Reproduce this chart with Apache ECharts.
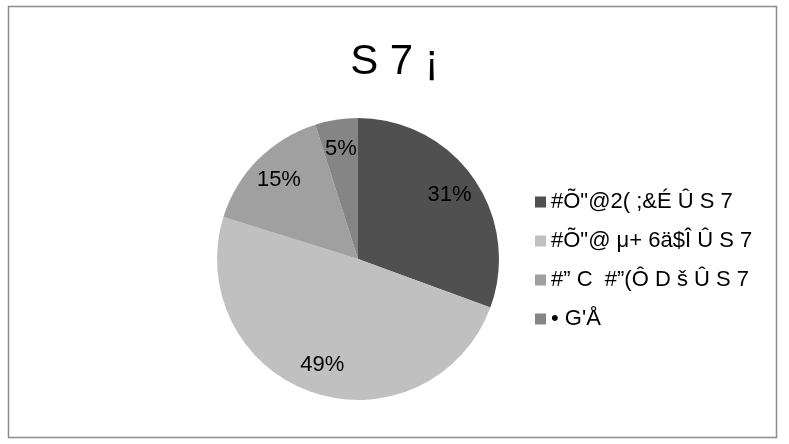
<!DOCTYPE html>
<html>
<head>
<meta charset="utf-8">
<script src="https://cdn.jsdelivr.net/npm/echarts@6/dist/echarts.min.js"></script>
<style>
html,body{margin:0;padding:0;background:#fff;}
#chart{width:789px;height:444px;}
</style>
</head>
<body>
<div id="chart"></div>
<script>
var titleText = 'S 7 ¡';
var categories = ['#Õ"@2( ;&É Û S 7', '#Õ"@ μ+ 6ä$Î Û S 7', '#” C  #”(Ô D š Û S 7', '• G\'Å'];
var values = [30.6, 49.2, 15.3, 4.9];
var colors = ['#505050', '#c0c0c0', '#a0a0a0', '#858585'];

var chart = echarts.init(document.getElementById('chart'), null, {renderer: 'canvas'});
var pieData = categories.map(function (c, i) {
  return { name: c, value: values[i], itemStyle: { color: colors[i] } };
});
var labelData = categories.map(function (c, i) {
  return { name: c, value: values[i] };
});
var font = '"Liberation Sans", Arial, sans-serif';
chart.setOption({
  animation: false,
  backgroundColor: '#ffffff',
  textStyle: { fontFamily: font },
  title: {
    text: titleText,
    left: 'center',
    top: 36,
    textStyle: { fontFamily: font, fontSize: 42, fontWeight: 'normal', color: '#000' }
  },
  legend: {
    orient: 'vertical',
    left: 530,
    top: 186,
    icon: 'rect',
    itemWidth: 11,
    itemHeight: 11,
    itemGap: 17,
    data: categories,
    textStyle: { fontFamily: font, fontSize: 22, color: '#000' },
    selectedMode: false
  },
  graphic: [{
    type: 'rect',
    shape: { x: 8.5, y: 6.5, width: 768, height: 431 },
    style: { fill: 'none', stroke: '#8c8c8c', lineWidth: 1.5 },
    silent: true
  }],
  series: [{
    type: 'pie',
    center: [358, 259],
    radius: [0, 141],
    startAngle: 90,
    clockwise: true,
    label: { show: false },
    labelLine: { show: false },
    silent: true,
    data: pieData
  }, {
    type: 'pie',
    center: [358, 259],
    radius: [76, 141],
    startAngle: 90,
    clockwise: true,
    silent: true,
    itemStyle: { color: 'transparent' },
    label: {
      show: true,
      position: 'inside',
      fontFamily: font,
      fontSize: 22,
      color: '#000',
      formatter: function (p) { return Math.round(p.percent) + '%'; }
    },
    labelLine: { show: false },
    legendHoverLink: false,
    data: labelData
  }]
});
</script>
</body>
</html>
